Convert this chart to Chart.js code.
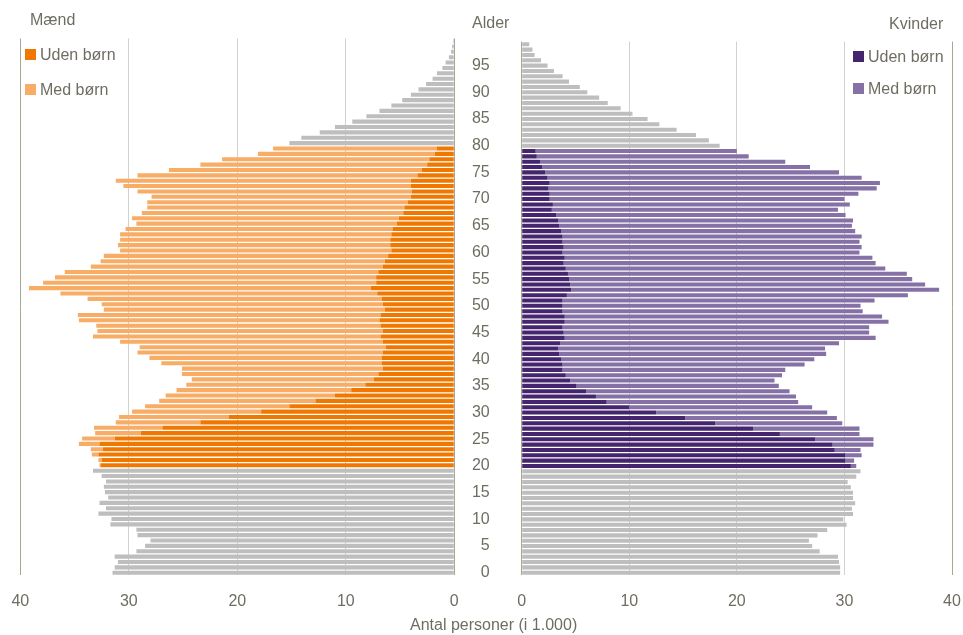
<!DOCTYPE html>
<html>
<head>
<meta charset="utf-8">
<script src="https://cdn.jsdelivr.net/npm/chart.js@4"></script>
<style>
  html,body{margin:0;padding:0;background:#fff;}
  #wrap{position:relative;width:963px;height:635px;overflow:hidden;font-family:"Liberation Sans",Arial,sans-serif;color:#6f6d62;}
  canvas{position:absolute;top:0;}
  .t{position:absolute;font-size:16px;line-height:18px;white-space:nowrap;}
  .sq{position:absolute;width:11px;height:11px;}
</style>
</head>
<body>
<div id="wrap">
  <canvas id="men" width="480" height="635" style="left:0;width:480px;height:635px"></canvas>
  <canvas id="women" width="508" height="635" style="left:455px;width:508px;height:635px"></canvas>
  <div class="t" style="left:30px;top:10.5px">Mænd</div>
  <div class="t" style="left:472px;top:14px">Alder</div>
  <div class="t" style="left:889px;top:14.5px">Kvinder</div>
  <div class="sq" style="left:25px;top:49px;background:#f07800"></div>
  <div class="t" style="left:40px;top:46px">Uden børn</div>
  <div class="sq" style="left:25px;top:84px;background:#f8ad66"></div>
  <div class="t" style="left:40px;top:80.5px">Med børn</div>
  <div class="sq" style="left:853px;top:50.5px;background:#45266e"></div>
  <div class="t" style="left:868px;top:47.5px">Uden børn</div>
  <div class="sq" style="left:853px;top:83px;background:#8671a7"></div>
  <div class="t" style="left:868px;top:80px">Med børn</div>
  <div class="t" style="left:410px;top:616px">Antal personer (i 1.000)</div>
</div>
<script>
// Ages 0..99
const ages = Array.from({length:100}, (_, i) => String(i));
const xTicks = [0, 10, 20, 30, 40];

// Men (thousands)
const menChildYoung = [31.5,31.3,31.0,31.3,29.3,28.5,28.0,29.2,29.3,31.7,31.6,32.8,32.1,32.7,31.9,32.2,32.3,32.1,32.5,33.3]; // ages 0-19
const menOld = [15.2,14.1,12.4,11.0,9.4,8.1,6.9,5.8,4.8,4.0,3.3,2.6,2.0,1.6,1.1,0.8,0.5,0.3,0.2,0.1]; // ages 80-99
const menUden = [32.6,32.5,32.8,32.4,32.7,31.3,28.9,26.9,23.4,20.8,17.8,15.2,12.8,11.0,9.5,8.2,7.4,7.0,6.6,6.7,
                 6.7,6.6,6.3,6.6,6.8,6.6,6.8,6.9,6.8,6.4,6.6,6.7,7.1,7.7,7.2,7.2,7.0,6.6,6.4,6.1,
                 5.8,5.9,5.9,5.8,5.7,5.3,5.1,4.7,4.6,4.3,4.0,3.9,4.0,4.0,3.4,3.0,2.5,2.3,1.8,1.6]; // ages 20-79
const menMed = [0.1,0.3,0.6,1.1,1.9,3.0,4.2,6.3,7.8,10.1,11.9,13.3,14.4,15.6,16.1,16.5,16.8,18.1,18.5,20.3,
                21.4,22.6,22.7,24.2,26.5,26.3,26.2,27.7,27.9,25.9,25.9,27.1,29.2,31.5,30.7,29.6,28.9,26.9,26.2,26.2,
                25.0,25.1,24.9,25.0,24.6,24.0,24.6,24.1,23.7,24.0,23.9,25.3,26.5,27.2,25.8,23.3,20.9,19.1,16.3,15.1]; // ages 20-79

// Women (thousands)
const womenChildYoung = [29.6,29.6,29.5,29.4,27.7,27.0,26.7,27.5,28.4,30.2,29.9,30.8,30.7,31.0,30.8,30.8,30.6,30.3,31.1,31.5];
const womenOld = [18.4,17.4,16.2,14.4,12.8,11.7,10.3,9.2,8.0,7.2,6.1,5.4,4.4,3.8,3.0,2.4,1.8,1.2,1.0,0.7];
const womenUden = [30.6,30.1,30.1,29.1,28.9,27.3,24.0,21.5,18.0,15.2,12.5,10.0,7.9,6.9,6.0,5.1,4.5,4.1,3.8,3.8,
                   3.7,3.5,3.4,3.6,4.0,3.9,3.8,4.0,4.0,3.8,3.8,3.8,4.2,4.6,4.5,4.4,4.3,4.1,3.9,4.0,
                   3.8,3.9,3.8,3.8,3.7,3.5,3.4,3.2,2.8,2.9,2.6,2.6,2.5,2.6,2.4,2.2,1.9,1.7,1.4,1.3];
const womenMed = [0.5,0.8,1.5,2.4,3.8,5.4,7.4,9.9,11.8,14.1,15.9,17.0,17.8,18.6,18.9,18.8,19.0,20.1,20.7,22.5,
                  23.5,24.8,24.8,25.9,28.9,28.4,28.5,30.1,29.5,27.9,27.7,29.0,31.7,34.2,33.0,31.9,31.5,29.7,29.0,28.6,
                  27.6,27.7,27.6,27.8,27.3,27.2,27.4,26.9,26.6,27.6,27.4,28.7,30.5,30.7,29.2,27.3,24.9,22.8,19.7,18.7];

const nulls = n => Array(n).fill(null);
const grayFull = (young, old) => [...young, ...nulls(60), ...old];
const midFull = mid => [...nulls(20), ...mid, ...nulls(20)];

const TXT = '#6f6d62';
const FONT = {family:'"Liberation Sans", Arial, sans-serif', size:16};
const gridColor = ctx => (ctx.tick && (ctx.tick.value === 0 || ctx.tick.value === 40)) ? '#a9a694' : '#d2d1ca';

function makeChart(id, reverse, cols, gray, uden, med, showAges) {
  const barOpts = {barPercentage:0.76, categoryPercentage:1, borderWidth:0};
  return new Chart(document.getElementById(id), {
    type:'bar',
    data:{
      labels:ages,
      datasets:[
        Object.assign({label:'Total', data:gray, backgroundColor:'#bebebe'}, barOpts),
        Object.assign({label:'Uden børn', data:uden, backgroundColor:cols[0]}, barOpts),
        Object.assign({label:'Med børn', data:med, backgroundColor:cols[1]}, barOpts)
      ]
    },
    options:{
      indexAxis:'y',
      responsive:false,
      animation:false,
      devicePixelRatio:1,
      events:[],
      layout:{padding: reverse ? {left:20.3, right:25.7, top:38.4, bottom:0}
                               : {left:0, right:11, top:38.4, bottom:0}},
      plugins:{legend:{display:false}, tooltip:{enabled:false}},
      scales:{
        x:{
          type:'linear', min:0, max:40, reverse:reverse, stacked:true,
          afterBuildTicks: s => { s.ticks = xTicks.map(v => ({value:v})); },
          afterFit: s => { s.height = 59.6; },
          ticks:{color:TXT, font:FONT, padding:0, maxRotation:0},
          grid:{color:gridColor, lineWidth:1, drawTicks:true, tickLength:17, tickColor:'rgba(0,0,0,0)'},
          border:{display:false}
        },
        y:{
          type:'category', reverse:true, stacked:true,
          display: showAges,
          afterFit: s => { if (showAges) s.width = 66.7; },
          ticks:{color:TXT, font:FONT, padding:32, autoSkip:false,
                 callback:(v, i) => (i % 5 === 0 ? ages[i] : '')},
          grid:{display:false, drawTicks:false},
          border:{display:false}
        }
      }
    }
  });
}

makeChart('men', true, ['#f07800', '#f8ad66'],
  grayFull(menChildYoung, menOld), midFull(menUden), midFull(menMed), false);
makeChart('women', false, ['#45266e', '#8671a7'],
  grayFull(womenChildYoung, womenOld), midFull(womenUden), midFull(womenMed), true);
</script>
</body>
</html>
